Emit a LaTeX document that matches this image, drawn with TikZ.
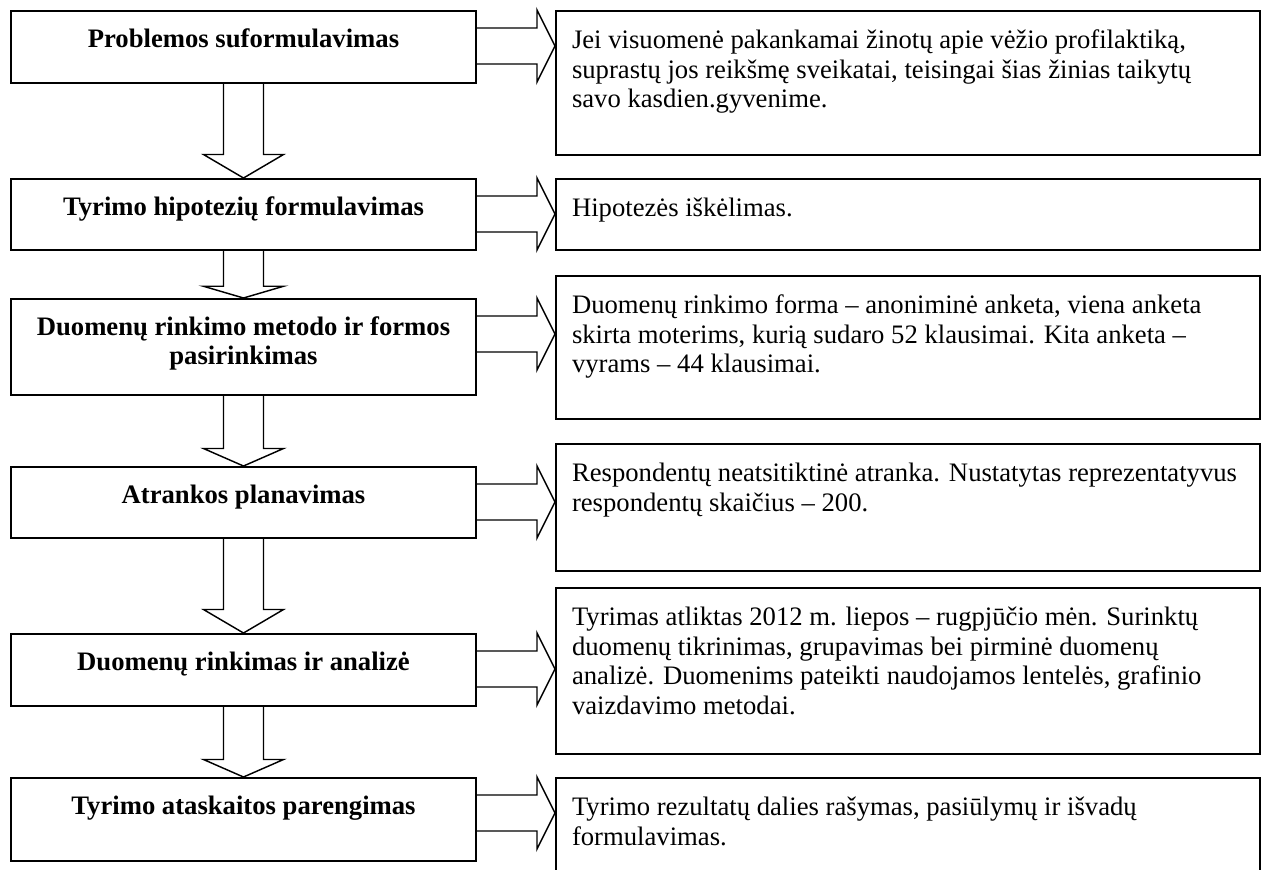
\documentclass[tikz,border=0pt]{standalone}
\usepackage{fontspec}
\setmainfont{Liberation Serif}
\usetikzlibrary{positioning,calc}

\newlength\pxu
\setlength\pxu{0.45pt}
% box contents: height in px, then text
\newcommand{\stagetext}[2]{\parbox[t][#1\pxu][t]{465\pxu}{\centering\vspace*{6.9pt}\strut#2}}
\newcommand{\notetext}[2]{\parbox[t][#1\pxu][t]{704\pxu}{\raggedright\leftskip=16\pxu\vspace*{7.7pt}\strut#2}}

\begin{document}
\begin{tikzpicture}[x=0.45pt, y=-0.45pt,
  stage/.style={draw, line width=0.9pt, anchor=north west, inner sep=0pt, font=\fontsize{12}{13.3}\selectfont\bfseries},
  note/.style={draw, line width=0.9pt, anchor=north west, inner sep=0pt, font=\fontsize{12}{13.3}\selectfont},
  blockarrow/.style={draw, line width=0.65pt, line join=miter}]
\path[use as bounding box] (0,0) rectangle (1265,869);
\clip (0,0) rectangle (1265,869);

% stages
\node[stage] (p1) at (10,10) {\stagetext{72}{Problemos suformulavimas}};
\node[stage] (p2) at (10,178) {\stagetext{71}{Tyrimo hipotezių formulavimas}};
\node[stage] (p3) at (10,298) {\stagetext{96}{Duomenų rinkimo metodo ir formos\\pasirinkimas}};
\node[stage] (p4) at (10,466) {\stagetext{71}{Atrankos planavimas}};
\node[stage] (p5) at (10,633) {\stagetext{72}{Duomenų rinkimas ir analizė}};
\node[stage] (p6) at (10,777) {\stagetext{83}{Tyrimo ataskaitos parengimas}};

% notes
\node[note] (r1) at (555,10) {\notetext{144}{Jei visuomenė pakankamai žinotų apie vėžio profilaktiką,\\
  suprastų jos reikšmę sveikatai, teisingai šias žinias taikytų\\
  savo kasdien.gyvenime.}};
\node[note] (r2) at (555,178) {\notetext{71}{Hipotezės iškėlimas.}};
\node[note] (r3) at (555,275) {\notetext{143}{Duomenų rinkimo forma – anoniminė anketa, viena anketa\\
  skirta moterims, kurią sudaro 52 klausimai. Kita anketa –\\
  vyrams – 44 klausimai.}};
\node[note] (r4) at (555,443) {\notetext{127}{Respondentų neatsitiktinė atranka. Nustatytas reprezentatyvus\\
  respondentų skaičius – 200.}};
\node[note] (r5) at (555,587) {\notetext{166}{Tyrimas atliktas 2012 m. liepos – rugpjūčio mėn. Surinktų\\
  duomenų tikrinimas, grupavimas bei pirminė duomenų\\
  analizė. Duomenims pateikti naudojamos lentelės, grafinio\\
  vaizdavimo metodai.}};
\node[note] (r6) at (555,777) {\notetext{110}{Tyrimo rezultatų dalies rašymas, pasiūlymų ir išvadų\\
  formulavimas.}};

% down arrows
\foreach \a/\b in {p1/p2, p2/p3, p3/p4, p4/p5, p5/p6}
  \draw[blockarrow] ($(\a.south)+(-20,0)$) -- ($(\b.north)!0.25!(\a.south)+(-20,0)$) -- ++(-20,0)
    -- (\b.north) -- ($(\b.north)!0.25!(\a.south)+(40,0)$) -- ++(-20,0) -- ($(\a.south)+(20,0)$);

% right arrows
\foreach \a/\b in {p1/r1, p2/r2, p3/r3, p4/r4, p5/r5, p6/r6}
  \draw[blockarrow] ($(\a.north east)+(0,18)$) -- ++(60,0) -- ++(0,-18)
    -- ($(\a.north east -| \b.west)+(0,36)$) -- ($(\a.north east)+(60,72)$) -- ++(0,-18)
    -- ($(\a.north east)+(0,54)$);
\end{tikzpicture}
\end{document}
